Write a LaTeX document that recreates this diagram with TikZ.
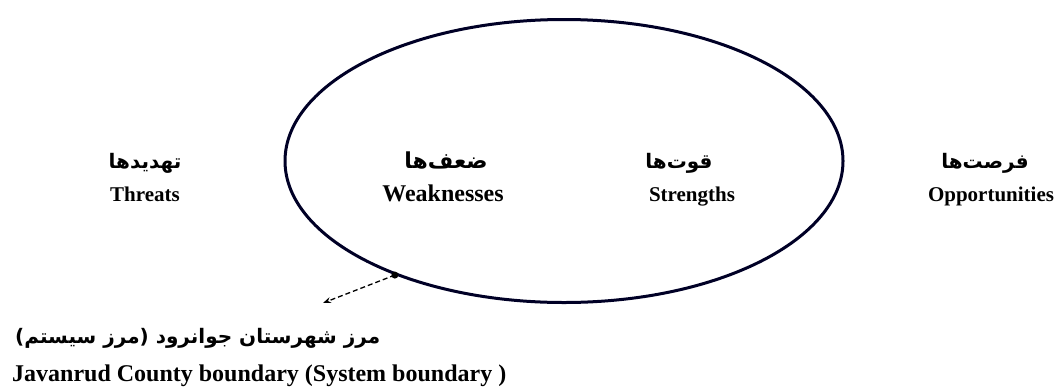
\documentclass[tikz,border=0pt]{standalone}
\usepackage{fontspec}
\setmainfont{Liberation Serif}
\newfontfamily\arabicfont[Script=Arabic]{DejaVu Sans}
\TeXXeTstate=1
\usetikzlibrary{shapes.geometric,arrows.meta}

\tikzset{
	fa/.style={font=\arabicfont\bfseries\fontsize{20}{24}\selectfont, inner sep=0pt, anchor=base},
	en/.style={font=\bfseries\fontsize{21}{25}\selectfont, inner sep=0pt, anchor=base},
	enbig/.style={font=\bfseries\fontsize{24}{28}\selectfont, inner sep=0pt, anchor=base},
}

\begin{document}
\begin{tikzpicture}[x=1pt,y=-1pt]
			
			\useasboundingbox (0,0) rectangle (1054,389);
			
			\node [draw=black!85!blue, line width=3pt, ellipse, minimum width=558pt, minimum height=283pt, inner sep=0pt] (boundary) at (564,161) {};
			
			\node [fa] (threatsfa) at (145,168) {\beginR تهدیدها\endR};
			\node [en] (threats) at (145,201) {Threats};
			\node [fa, font=\arabicfont\bfseries\fontsize{22}{26}\selectfont] (weakfa) at (446,168) {\beginR ضعف‌ها\endR};
			\node [enbig] (weak) at (443,201) {Weaknesses};
			\node [fa] (strongfa) at (679,168) {\beginR قوت‌ها\endR};
			\node [en] (strong) at (692,201) {Strengths};
			\node [fa] (oppfa) at (985,168) {\beginR فرصت‌ها\endR};
			\node [en] (opp) at (991,201) {Opportunities};
			
			\fill (boundary.214) circle (3.5pt) coordinate (dot);
			\coordinate (tip) at (323,303);
			\draw [dash pattern=on 5pt off 3pt, line width=1.3pt, -{Stealth[length=8pt,width=6pt]}] (dot) -- (tip);
			
			\node [fa, anchor=base west] (borderfa) at (15,343) {\beginR مرز شهرستان جوانرود (مرز سیستم)\endR};
			\node [enbig, anchor=base west] (border) at (12,381) {Javanrud County boundary (System boundary )};

		\end{tikzpicture}
\end{document}
